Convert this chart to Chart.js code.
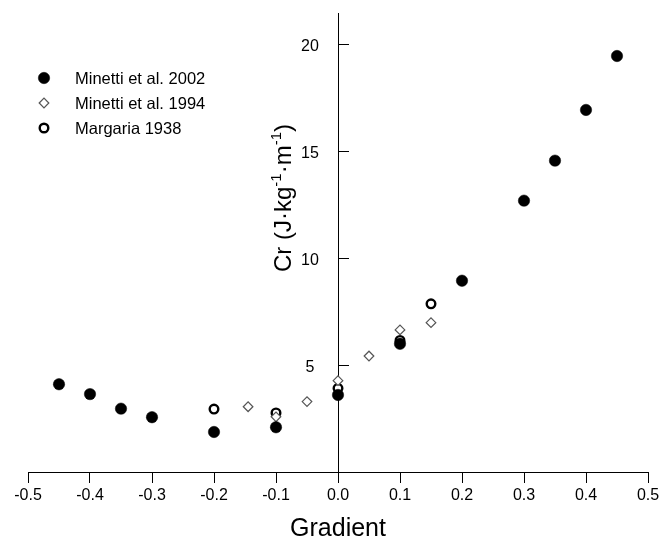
<!DOCTYPE html>
<html>
<head>
<meta charset="utf-8">
<title>Cr vs Gradient</title>
<script src="https://cdn.jsdelivr.net/npm/chart.js"></script>
<style>
  html, body { margin: 0; padding: 0; background: #fff; }
  #chart { display: block; }
</style>
</head>
<body>
<canvas id="chart" width="659" height="537"></canvas>
<script>
// --- Datos ---
const minetti2002X = [-0.45, -0.40, -0.35, -0.30, -0.20, -0.10, 0.00, 0.10, 0.20, 0.30, 0.35, 0.40, 0.45];
const minetti2002Y = [4.10, 3.64, 2.96, 2.56, 1.87, 2.09, 3.60, 5.99, 8.94, 12.68, 14.55, 16.92, 19.44];

const minetti1994X = [-0.145, -0.10, -0.05, 0.00, 0.05, 0.10, 0.15];
const minetti1994Y = [3.05, 2.58, 3.29, 4.27, 5.42, 6.64, 6.98];

const margariaX = [-0.20, -0.10, 0.00, 0.10, 0.15];
const margariaY = [2.94, 2.76, 3.91, 6.15, 7.86];

const seriesLabels = ['Minetti et al. 2002', 'Minetti et al. 1994', 'Margaria 1938'];
const xTickStep = 0.1;
const yTickStep = 5;

const FONT = '"Liberation Sans", Arial, Helvetica, sans-serif';

function toPoints(xs, ys) {
    return xs.map((x, i) => ({ x: x, y: ys[i] }));
}

// Eje Y cruzando en x = 0: marcas hacia la derecha, etiquetas centradas a la izquierda
const yAxisDecor = {
    id: 'yAxisDecor',
    afterDraw(chart) {
        const ctx = chart.ctx;
        const xs = chart.scales.x;
        const ys = chart.scales.y;
        const x0 = Math.round(xs.getPixelForValue(0));
        ctx.save();
        ctx.strokeStyle = '#000';
        ctx.lineWidth = 1;
        ctx.fillStyle = '#000';
        ctx.font = '16px ' + FONT;
        ctx.textAlign = 'center';
        ctx.textBaseline = 'middle';
        ys.ticks.forEach(t => {
            if (t.value <= 0) return;
            const py = Math.round(ys.getPixelForValue(t.value)) + 0.5;
            ctx.beginPath();
            ctx.moveTo(x0, py);
            ctx.lineTo(x0 + 11, py);
            ctx.stroke();
            ctx.fillText(String(t.value), x0 - 28, py + 2);
        });

        // Título del eje Y, girado, con superíndices
        const parts = [
            { t: 'Cr (J\u00b7kg', sup: false },
            { t: '-1', sup: true },
            { t: '\u00b7m', sup: false },
            { t: '-1', sup: true },
            { t: ')', sup: false }
        ];
        const big = '24px ' + FONT;
        const small = '15px ' + FONT;
        let total = 0;
        parts.forEach(p => {
            ctx.font = p.sup ? small : big;
            p.w = ctx.measureText(p.t).width;
            total += p.w;
        });
        ctx.translate(282, 198);
        ctx.rotate(-Math.PI / 2);
        ctx.textAlign = 'left';
        ctx.textBaseline = 'alphabetic';
        let cx = -total / 2;
        parts.forEach(p => {
            ctx.font = p.sup ? small : big;
            ctx.fillText(p.t, cx, p.sup ? -1 : 8.5);
            cx += p.w;
        });
        ctx.restore();
    }
};

// Leyenda dentro del área, arriba a la izquierda
const insideLegend = {
    id: 'insideLegend',
    afterDraw(chart) {
        const ctx = chart.ctx;
        const left = 44, textX = 75, top = 78, step = 25;
        ctx.save();
        ctx.font = '16.5px ' + FONT;
        ctx.textBaseline = 'middle';
        chart.data.datasets.forEach((ds, i) => {
            const y = top + i * step;
            ctx.fillStyle = ds.backgroundColor;
            ctx.strokeStyle = ds.borderColor;
            ctx.lineWidth = ds.borderWidth;
            Chart.helpers.drawPoint(ctx, {
                pointStyle: ds.pointStyle,
                radius: ds.pointRadius,
                borderWidth: ds.borderWidth,
                rotation: 0
            }, left, y);
            ctx.fillStyle = '#000';
            ctx.fillText(ds.label, textX, y + 1.5);
        });
        ctx.restore();
    }
};

Chart.defaults.font.family = FONT;
Chart.defaults.color = '#000';

const ctx = document.getElementById('chart').getContext('2d');
new Chart(ctx, {
    type: 'scatter',
    data: {
        datasets: [
            {
                label: seriesLabels[0],
                data: toPoints(minetti2002X, minetti2002Y),
                pointStyle: 'circle',
                pointRadius: 5.7,
                backgroundColor: '#000',
                borderColor: '#000',
                borderWidth: 0.5
            },
            {
                label: seriesLabels[1],
                data: toPoints(minetti1994X, minetti1994Y),
                pointStyle: 'rectRot',
                pointRadius: 4.8,
                backgroundColor: '#fff',
                borderColor: '#555',
                borderWidth: 1.2
            },
            {
                label: seriesLabels[2],
                data: toPoints(margariaX, margariaY),
                pointStyle: 'circle',
                pointRadius: 4.3,
                backgroundColor: '#fff',
                borderColor: '#000',
                borderWidth: 2.4
            }
        ]
    },
    options: {
        responsive: false,
        animation: false,
        devicePixelRatio: 1,
        layout: { padding: { left: 28, right: 11, top: 13, bottom: 0 } },
        plugins: {
            legend: { display: false },
            tooltip: { enabled: false }
        },
        elements: { point: { hoverRadius: 0 } },
        scales: {
            x: {
                type: 'linear',
                min: -0.5,
                max: 0.5,
                afterFit: s => {
                    s.height = 65;
                    s.paddingLeft = 0;
                    s.paddingRight = 0;
                },
                border: { color: '#000', width: 1 },
                grid: { drawOnChartArea: false, drawTicks: true, tickLength: 11, tickColor: '#000', tickWidth: 1 },
                ticks: {
                    stepSize: xTickStep,
                    padding: 3,
                    font: { size: 16 },
                    color: '#000',
                    callback: v => Number(v).toFixed(1)
                },
                title: {
                    display: true,
                    text: 'Gradient',
                    font: { size: 25, lineHeight: 1 },
                    color: '#000',
                    padding: { top: 0, bottom: -5 }
                }
            },
            y: {
                type: 'linear',
                position: { x: 0 },
                min: 0,
                max: 21.45,
                afterFit: s => {
                    s.paddingTop = 0;
                    s.paddingBottom = 0;
                },
                border: { color: '#000', width: 1 },
                grid: { drawOnChartArea: false, drawTicks: false },
                ticks: {
                    display: false,
                    stepSize: yTickStep,
                    includeBounds: false
                },
                title: { display: false }
            }
        }
    },
    plugins: [yAxisDecor, insideLegend]
});
</script>
</body>
</html>
